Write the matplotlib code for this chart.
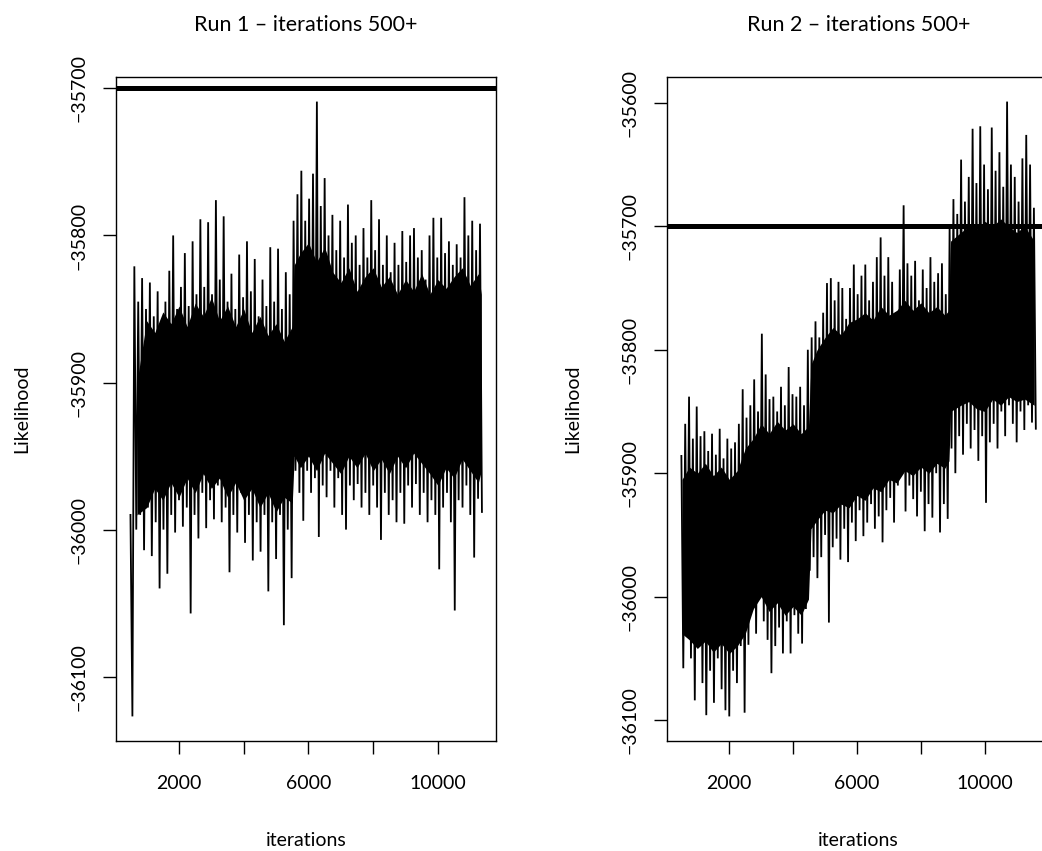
import numpy as np
import matplotlib
matplotlib.use("Agg")
import matplotlib.pyplot as plt

plt.rcParams['font.family'] = ['Lato', 'DejaVu Sans']

# ---------------- data ----------------
# Run 1: local maxima at 500 + 120*i, local minima at 560 + 120*i
run1_upper_start, run1_lower_start, run1_step = 500, 560, 120
run1_upper = [-35990, -35821, -35845, -35829, -35850, -35832, -35855, -35838, -35860, -35845,
              -35824, -35800, -35850, -35835, -35812, -35848, -35804, -35840, -35789, -35835,
              -35791, -35840, -35776, -35830, -35787, -35845, -35826, -35850, -35813, -35842,
              -35804, -35838, -35816, -35855, -35830, -35848, -35808, -35845, -35809, -35850,
              -35825, -35840, -35790, -35772, -35756, -35790, -35775, -35758, -35709, -35780,
              -35761, -35800, -35786, -35810, -35790, -35815, -35779, -35805, -35800, -35820,
              -35795, -35815, -35776, -35810, -35789, -35820, -35800, -35825, -35805, -35820,
              -35797, -35818, -35800, -35795, -35815, -35810, -35830, -35800, -35788, -35815,
              -35788, -35812, -35804, -35820, -35806, -35815, -35774, -35800, -35790, -35810,
              -35792]
run1_lower = [-36127, -36000, -35990, -36014, -35985, -36018, -35995, -36040, -36000, -36030,
              -35990, -36002, -35980, -35998, -35985, -36057, -35990, -36006, -35975, -35999,
              -35980, -35993, -35970, -35995, -35985, -36029, -35990, -36002, -35975, -36009,
              -35990, -36021, -35995, -36015, -35990, -36042, -35995, -36020, -35990, -36065,
              -36000, -36033, -35960, -35975, -35994, -35960, -35975, -35965, -36005, -35970,
              -35978, -35960, -35985, -35965, -35990, -36000, -35970, -35980, -35969, -35985,
              -35975, -35990, -35970, -35985, -36007, -35975, -35990, -35980, -35995, -35975,
              -35996, -35970, -35985, -35969, -35990, -35975, -35995, -35980, -35990, -36027,
              -35985, -35975, -35995, -36055, -35980, -35985, -35970, -35990, -36019, -35979,
              -35988]
# dense (solid black) core of the run 1 trace
run1_core_iter = [700, 1000, 1250, 1500, 1750, 2000, 2250, 2500, 2750, 3000, 3250, 3500, 3750,
                  4000, 4250, 4500, 4750, 5000, 5250, 5500,
                  5560, 5750, 6000, 6250, 6500, 6750, 7000, 7250, 7500, 7750, 8000, 8250, 8500,
                  8750, 9000, 9250, 9500, 9750, 10000, 10250, 10500, 10750, 11000, 11250, 11340]
run1_core_hi = [-35900, -35858, -35866, -35852, -35860, -35848, -35862, -35846, -35855, -35842,
                -35858, -35848, -35862, -35850, -35866, -35855, -35868, -35860, -35872, -35862,
                -35820, -35812, -35805, -35818, -35808, -35825, -35832, -35822, -35838, -35828,
                -35822, -35835, -35828, -35840, -35830, -35838, -35826, -35840, -35830, -35836,
                -35828, -35822, -35834, -35826, -35840]
run1_core_lo = [-35990, -35985, -35972, -35980, -35968, -35978, -35965, -35975, -35962, -35972,
                -35965, -35978, -35968, -35980, -35972, -35985, -35975, -35988, -35978, -35982,
                -35950, -35958, -35950, -35960, -35948, -35955, -35962, -35950, -35958, -35948,
                -35960, -35952, -35962, -35950, -35958, -35948, -35955, -35962, -35970, -35958,
                -35965, -35952, -35960, -35968, -35960]

# Run 2
run2_upper_start, run2_lower_start, run2_step = 500, 560, 120
run2_upper = [-35886, -35860, -35838, -35872, -35846, -35870, -35866, -35882, -35868, -35885,
              -35864, -35888, -35872, -35880, -35875, -35860, -35832, -35855, -35845, -35824,
              -35850, -35787, -35820, -35840, -35838, -35850, -35830, -35845, -35814, -35836,
              -35838, -35830, -35845, -35800, -35790, -35777, -35790, -35770, -35746, -35742,
              -35760, -35745, -35750, -35775, -35750, -35731, -35755, -35740, -35731, -35760,
              -35745, -35725, -35709, -35740, -35725, -35745, -35770, -35735, -35683, -35730,
              -35740, -35728, -35760, -35735, -35750, -35725, -35745, -35738, -35730, -35755,
              -35700, -35678, -35690, -35646, -35680, -35660, -35621, -35665, -35619, -35650,
              -35670, -35620, -35655, -35640, -35668, -35599, -35650, -35660, -35680, -35645,
              -35626, -35650, -35685]
run2_lower = [-36058, -36027, -36050, -36084, -36040, -36070, -36096, -36060, -36086, -36050,
              -36075, -36092, -36097, -36060, -36070, -36040, -36094, -36039, -36011, -36030,
              -35990, -36020, -36035, -36062, -36040, -36025, -36046, -36020, -36046, -36015,
              -36030, -36038, -36010, -35979, -35968, -35985, -35968, -35950, -36021, -35960,
              -35953, -35970, -35945, -35972, -35940, -35955, -35930, -35951, -35940, -35925,
              -35945, -35935, -35956, -35930, -35920, -35940, -35910, -35876, -35931, -35910,
              -35921, -35935, -35915, -35947, -35925, -35936, -35900, -35948, -35925, -35937,
              -35880, -35900, -35870, -35885, -35860, -35880, -35865, -35890, -35870, -35924,
              -35875, -35860, -35880, -35850, -35870, -35845, -35860, -35875, -35850, -35865,
              -35845, -35859, -35864]
run2_core_iter = [520, 750, 1000, 1250, 1500, 1750, 2000, 2250, 2500, 2750, 3000, 3250, 3500,
                  3750, 4000, 4250, 4480,
                  4560, 4750, 5000, 5250, 5500, 5750, 6000, 6250, 6500, 6750, 7000, 7250, 7500,
                  7750, 8000, 8250, 8500, 8750, 8880,
                  8930, 9250, 9500, 9750, 10000, 10250, 10500, 10750, 11000, 11250, 11550]
run2_core_hi = [-35905, -35895, -35900, -35892, -35902, -35895, -35905, -35898, -35880, -35872,
                -35860, -35868, -35858, -35865, -35860, -35868, -35862,
                -35812, -35800, -35790, -35782, -35788, -35778, -35775, -35770, -35776, -35765,
                -35772, -35768, -35760, -35768, -35762, -35770, -35765, -35772, -35768,
                -35712, -35705, -35700, -35702, -35696, -35700, -35694, -35700, -35705, -35700,
                -35712]
run2_core_lo = [-36030, -36035, -36042, -36036, -36045, -36038, -36046, -36040, -36030, -36010,
                -36000, -36012, -36005, -36015, -36008, -36015, -36002,
                -35945, -35938, -35930, -35932, -35925, -35928, -35918, -35922, -35912, -35915,
                -35905, -35908, -35898, -35902, -35895, -35900, -35892, -35896, -35890,
                -35850, -35845, -35842, -35848, -35850, -35840, -35845, -35838, -35842, -35840,
                -35845]

ref_line = -35700
titles = ["Run 1 \u2013 iterations 500+", "Run 2 \u2013 iterations 500+"]
xticks = [2000, 4000, 6000, 8000, 10000]
xticklabels = ["2000", "", "6000", "", "10000"]
yticks_run1 = [-36100, -36000, -35900, -35800, -35700]
yticks_run2 = [-36100, -36000, -35900, -35800, -35700, -35600]


def trace(upper, lower, u0, l0, step):
    xs, ys = [], []
    for i in range(len(upper)):
        xs.append(u0 + step * i); ys.append(upper[i])
        if i < len(lower):
            xs.append(l0 + step * i); ys.append(lower[i])
    return np.array(xs, float), np.array(ys, float)


W, H = 1042, 851
fig = plt.figure(figsize=(W / 100, H / 100), dpi=100)
top, bottom = 77, 741
axes_px = [(116.4, 496.0), (667.2, 1050.0)]
runs = [(run1_upper, run1_lower, run1_upper_start, run1_lower_start, run1_step, yticks_run1,
         run1_core_iter, run1_core_hi, run1_core_lo),
        (run2_upper, run2_lower, run2_upper_start, run2_lower_start, run2_step, yticks_run2,
         run2_core_iter, run2_core_hi, run2_core_lo)]

for k, ((x0, x1), (up, lo, u0, l0, st, yt, ci, chi, clo)) in enumerate(zip(axes_px, runs)):
    ax = fig.add_axes([x0 / W, 1 - bottom / H, (x1 - x0) / W, (bottom - top) / H])
    xs, ys = trace(up, lo, u0, l0, st)
    ax.fill_between(ci, chi, clo, color="black", lw=0)
    ax.plot(xs, ys, color="black", lw=1.3, solid_joinstyle="miter")
    ax.axhline(ref_line, color="black", lw=3.6)
    # R-style 4% padding
    xr = xs.max() - xs.min(); yr = ys.max() - ys.min()
    ax.set_xlim(xs.min() - 0.04 * xr, xs.max() + 0.04 * xr)
    ax.set_ylim(ys.min() - 0.04 * yr, ys.max() + 0.04 * yr)
    ax.set_xticks(xticks)
    ax.set_xticklabels(xticklabels)
    ax.set_yticks(yt)
    ax.set_yticklabels([f"{v}".replace("-", "\u2212") for v in yt], rotation=90, va="center")
    ax.tick_params(direction="out", length=9.5, width=1.0, labelsize=14, color="black")
    ax.tick_params(axis="x", pad=15)
    ax.tick_params(axis="y", pad=11)
    for s in ax.spines.values():
        s.set_linewidth(1.0)
    ax.set_title(titles[k], fontsize=15.5, pad=33)
    ax.set_xlabel("iterations", fontsize=14, labelpad=29)
    ax.set_ylabel("Likelihood", fontsize=14, labelpad=29)

fig.savefig("out.png", dpi=100)
